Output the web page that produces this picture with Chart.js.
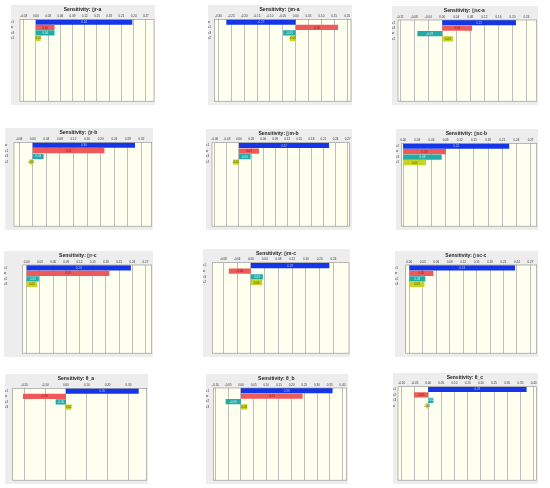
<!DOCTYPE html>
<html>
<head>
<meta charset="utf-8">
<script src="https://cdn.jsdelivr.net/npm/chart.js@4.4.0/dist/chart.umd.min.js"></script>
<style>
  body { margin: 0; background: #fff; width: 550px; height: 488px; position: relative; overflow: hidden; }
  canvas { position: absolute; }
</style>
</head>
<body>
<script>
// one entry per panel, row by row
const titles = [
  "Sensitivity: \u25AFr-a", "Sensitivity: \u25AFm-a", "Sensitivity: \u25AFsc-a",
  "Sensitivity: \u25AFr-b", "Sensitivity: \u25AFm-b", "Sensitivity: \u25AFsc-b",
  "Sensitivity: \u25AFr-c", "Sensitivity: \u25AFm-c", "Sensitivity: \u25AFsc-c",
  "Sensitivity: \u03B8_a", "Sensitivity: \u03B8_b", "Sensitivity: \u03B8_c"
];
const categories = [
  ["c1", "w", "c3", "c2"], ["w", "c1", "c3", "c2"], ["c1", "c3", "w", "c2"],
  ["w", "c1", "c3", "c2"], ["c1", "w", "c3", "c2"], ["c1", "w", "c3", "c2"],
  ["c1", "w", "c2", "c3"], ["c1", "w", "c3", "c2"], ["c1", "w", "c2", "c3"],
  ["c1", "w", "c2", "c3"], ["c1", "w", "c2", "c3"], ["c1", "c2", "c3", "w"]
];
const values = [
  [0.236, 0.045, 0.045, 0.011], [-0.268, 0.163, -0.047, -0.021], [0.209, 0.084, -0.070, 0.030],
  [0.300, 0.210, 0.031, -0.008], [0.223, 0.049, 0.028, -0.014], [0.224, 0.090, 0.081, 0.048],
  [0.236, 0.187, 0.027, 0.023], [0.227, -0.063, 0.034, 0.032], [0.235, 0.053, 0.035, 0.033],
  [0.348, -0.205, -0.048, 0.024], [0.360, 0.242, -0.059, 0.024], [0.372, -0.052, 0.019, -0.006]
];
const barLabels = [
  ["0.24", "0.05", "0.04", "0.01"], ["-0.27", "0.16", "-0.05", "-0.02"], ["0.21", "0.08", "-0.07", "0.03"],
  ["0.30", "0.21", "0.03", "-0.01"], ["0.22", "0.05", "0.03", "-0.01"], ["0.22", "0.09", "0.08", "0.05"],
  ["0.24", "0.19", "0.03", "0.02"], ["0.23", "-0.06", "0.03", "0.03"], ["0.23", "0.05", "0.03", "0.03"],
  ["0.35", "-0.20", "-0.05", "0.02"], ["0.36", "0.24", "-0.06", "0.02"], ["0.37", "-0.05", "0.02", "-0.01"]
];
const tickValues = [
  [-0.03, 0, 0.03, 0.06, 0.09, 0.12, 0.15, 0.18, 0.21, 0.24, 0.27],
  [-0.30, -0.25, -0.20, -0.15, -0.10, -0.05, 0, 0.05, 0.10, 0.15, 0.20],
  [-0.12, -0.08, -0.04, 0, 0.04, 0.08, 0.12, 0.16, 0.20, 0.24],
  [-0.04, 0, 0.04, 0.08, 0.12, 0.16, 0.20, 0.24, 0.28, 0.32],
  [-0.06, -0.03, 0, 0.03, 0.06, 0.09, 0.12, 0.15, 0.18, 0.21, 0.24, 0.27],
  [0, 0.03, 0.06, 0.09, 0.12, 0.15, 0.18, 0.21, 0.24, 0.27],
  [0, 0.03, 0.06, 0.09, 0.12, 0.15, 0.18, 0.21, 0.24, 0.27],
  [-0.08, -0.04, 0, 0.04, 0.08, 0.12, 0.16, 0.20, 0.24],
  [0, 0.03, 0.06, 0.09, 0.12, 0.15, 0.18, 0.21, 0.24, 0.27],
  [-0.20, -0.10, 0, 0.10, 0.20, 0.30],
  [-0.10, -0.05, 0, 0.05, 0.10, 0.15, 0.20, 0.25, 0.30, 0.35, 0.40],
  [-0.10, -0.05, 0, 0.05, 0.10, 0.15, 0.20, 0.25, 0.30, 0.35, 0.40]
];
const axisMin = [-0.039, -0.316, -0.126, -0.055, -0.067, -0.003, -0.009, -0.112, -0.008, -0.256, -0.109, -0.114];
const axisMax = [0.290, 0.215, 0.269, 0.350, 0.274, 0.283, 0.284, 0.285, 0.284, 0.388, 0.417, 0.410];

// page layout: plot area [left, top, right, bottom] and x of the category labels
const plotBoxes = [
  [20, 19.3, 154, 104], [214.3, 19.3, 351, 104], [398, 20, 536.7, 104],
  [14, 142.3, 151.7, 229], [212, 142.7, 351, 229], [401.7, 143.3, 536.7, 229],
  [22.7, 265, 151.7, 356], [212.3, 262.7, 349, 356], [405.7, 265, 536.7, 356],
  [12.7, 388.3, 146.7, 483], [213.3, 388, 346.7, 483], [398, 386.7, 536.7, 483]
];
const labelLeft = [13.3, 210, 394, 6.7, 208, 397.7, 6, 205, 396.7, 6.7, 207.7, 395];
const rowPitch = 5.7;

const barColors = ["#1436e8", "#ee5a5a", "#20aaa8", "#c8d424"];
const labelColors = ["#b8c6ff", "#8a1616", "#d6f2f2", "#55550c"];

const panelBg = {
  id: "panelBg",
  beforeDraw(chart) {
    const { ctx, chartArea: a, width, height } = chart;
    ctx.save();
    ctx.fillStyle = "#ededed";
    ctx.fillRect(0, 0, width, height);
    ctx.fillStyle = "#fffff0";
    ctx.fillRect(a.left, a.top, a.right - a.left, a.bottom - a.top);
    ctx.restore();
  },
  afterDraw(chart) {
    const { ctx, chartArea: a } = chart;
    ctx.save();
    ctx.strokeStyle = "#8c8c8c";
    ctx.lineWidth = 0.6;
    ctx.strokeRect(a.left, a.top, a.right - a.left, a.bottom - a.top);
    ctx.restore();
  }
};

const barText = {
  id: "barText",
  afterDatasetsDraw(chart) {
    const p = chart.options.plugins.barText.panel;
    const { ctx } = chart;
    ctx.save();
    ctx.font = "3px 'Liberation Sans', Arial, sans-serif";
    ctx.textAlign = "center";
    ctx.textBaseline = "middle";
    chart.getDatasetMeta(0).data.forEach((bar, i) => {
      ctx.fillStyle = labelColors[i];
      ctx.fillText(barLabels[p][i], (bar.x + bar.base) / 2, bar.y + 0.2);
    });
    ctx.restore();
  }
};

plotBoxes.forEach((box, p) => {
  const [pl, pt, pr, pb] = box;
  const cl = Math.round(labelLeft[p] - 2);
  const ct = Math.round(pt - 14);
  const cw = Math.round(pr + 1) - cl;
  const ch = Math.round(pb + 1) - ct;
  const canvas = document.createElement("canvas");
  canvas.width = cw;
  canvas.height = ch;
  canvas.style.left = cl + "px";
  canvas.style.top = ct + "px";
  canvas.style.width = cw + "px";
  canvas.style.height = ch + "px";
  document.body.appendChild(canvas);

  // the rest of the plot height is empty rows below the four bars
  const slots = Math.round((pb - pt) / rowPitch);
  const rowLabels = categories[p].concat(Array(slots - categories[p].length).fill(""));

  new Chart(canvas, {
    type: "bar",
    data: {
      labels: rowLabels,
      datasets: [{
        data: values[p],
        backgroundColor: barColors,
        borderWidth: 0,
        barThickness: 4.6
      }]
    },
    options: {
      indexAxis: "y",
      responsive: false,
      animation: false,
      devicePixelRatio: 1,
      layout: { padding: { top: 1.5, left: 0, right: cl + cw - pr, bottom: ct + ch - pb } },
      plugins: {
        legend: { display: false },
        tooltip: { enabled: false },
        title: {
          display: true,
          text: titles[p],
          color: "#222",
          font: { family: "'Liberation Sans', Arial, sans-serif", size: 5, weight: "bold" },
          padding: { top: 0, bottom: 0 }
        },
        barText: { panel: p }
      },
      scales: {
        x: {
          type: "linear",
          position: "top",
          min: axisMin[p],
          max: axisMax[p],
          afterBuildTicks: s => { s.ticks = tickValues[p].map(v => ({ value: v })); },
          afterFit: s => { s.height = pt - ct - 1.5 - 6; },
          ticks: {
            font: { family: "'Liberation Sans', Arial, sans-serif", size: 3 },
            color: "#333",
            padding: 1.4,
            maxRotation: 0,
            autoSkip: false,
            callback: v => v.toFixed(2)
          },
          grid: { color: "#a2a2a2", lineWidth: 0.7, drawTicks: false },
          border: { display: false }
        },
        y: {
          type: "category",
          afterFit: s => { s.width = pl - cl; },
          ticks: {
            font: { family: "'Liberation Sans', Arial, sans-serif", size: 3 },
            color: "#333",
            crossAlign: "far",
            padding: 2,
            autoSkip: false
          },
          grid: { display: false },
          border: { display: false }
        }
      }
    },
    plugins: [panelBg, barText]
  });
});
</script>
</body>
</html>
